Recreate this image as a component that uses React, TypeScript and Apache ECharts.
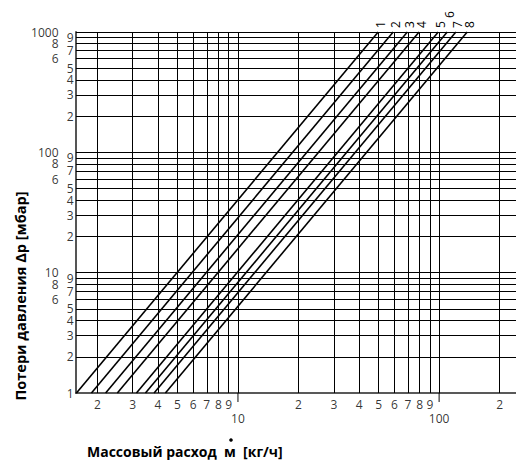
import React, { useEffect, useRef } from "react";
import * as echarts from "echarts";

// Axis ranges (log-log)
const X_MIN = 1.567;
const X_MAX = 241;
const Y_MIN = 1;
const Y_MAX = 1000;

// Curve names and mass flow [kg/h] at 1 mbar and at 1000 mbar
const CURVE_NAMES = ["1", "2", "3", "4", "5", "6", "7", "8"];
const FLOW_AT_1 = [1.575, 1.87, 2.2, 2.515, 3.13, 3.47, 3.83, 4.36];
const FLOW_AT_1000 = [49.8, 59.1, 69.5, 79.5, 99, 109.7, 121.1, 137.9];

// Grid lines
const X_GRID = [2, 3, 4, 5, 6, 7, 8, 9, 10, 20, 30, 40, 50, 60, 70, 80, 90, 100, 200];
const Y_GRID = [
  2, 3, 4, 5, 6, 7, 8, 9, 10, 20, 30, 40, 50, 60, 70, 80, 90, 100,
  200, 300, 400, 500, 600, 700, 800, 900, 1000,
];

// Tick labels
const X_MINOR_LABELS = [2, 3, 4, 5, 6, 7, 8, 9, 20, 30, 40, 50, 60, 70, 80, 90, 200];
const X_DECADE_LABELS = [10, 100];
const Y_NEAR_LABELS = [1, 2, 3, 4, 5, 7, 9, 20, 30, 40, 50, 70, 90, 200, 300, 400, 500, 700, 900];
const Y_NEAR_TEXT = ["1", "2", "3", "4", "5", "7", "9", "2", "3", "4", "5", "7", "9", "2", "3", "4", "5", "7", "9"];
const Y_FAR_LABELS = [6, 8, 10, 60, 80, 100, 600, 800, 1000];
const Y_FAR_TEXT = ["6", "8", "10", "6", "8", "100", "6", "8", "1000"];

const X_TITLE = "Массовый расход  м  [кг/ч]";
const Y_TITLE = "Потери давления Δp [мбар]";

const FONT = "'Open Sans', 'Noto Sans', sans-serif";

function firstDigit(v: number): string {
  const s = String(v);
  return s[0];
}

export default function App() {
  const ref = useRef<HTMLDivElement>(null);

  useEffect(() => {
    if (!ref.current) return;
    const chart = echarts.init(ref.current, undefined, { renderer: "svg" });

    const labelStyle = { fontFamily: FONT, fontSize: 12, lineHeight: 11, color: "#000" };

    const curveSeries = CURVE_NAMES.map((name, i) => ({
      type: "line",
      name,
      silent: true,
      symbol: "none",
      showSymbol: false,
      lineStyle: { color: "#000", width: 1.6 },
      data: [
        [FLOW_AT_1[i], Y_MIN],
        [FLOW_AT_1000[i], Y_MAX],
      ],
      clip: false,
      z: 5,
    }));

    const baseGraphic: any[] = [
      {
        type: "text",
        x: 20,
        y: 296,
        rotation: Math.PI / 2,
        style: {
          text: Y_TITLE,
          fontFamily: FONT,
          fontSize: 14.5,
          fontWeight: "bold",
          fill: "#000",
          align: "center",
          verticalAlign: "middle",
        },
      },
      {
        type: "text",
        x: 87,
        y: 451,
        style: {
          text: X_TITLE,
          fontFamily: FONT,
          fontSize: 14,
          fontWeight: "bold",
          fill: "#000",
          align: "left",
          verticalAlign: "middle",
        },
      },
      {
        type: "circle",
        shape: { cx: 231, cy: 440, r: 1.8 },
        style: { fill: "#000" },
      },
    ];

    const option: any = {
      animation: false,
      backgroundColor: "#fff",
      grid: { left: 76, top: 32, right: 0, bottom: 71, containLabel: false },
      xAxis: {
        type: "log",
        logBase: 10,
        min: X_MIN,
        max: X_MAX,
        axisLine: { show: true, lineStyle: { color: "#222", width: 1.5 } },
        axisTick: { show: false },
        axisLabel: { show: false },
        splitLine: { show: false },
      },
      yAxis: {
        type: "log",
        logBase: 10,
        min: Y_MIN,
        max: Y_MAX,
        axisLine: { show: true, lineStyle: { color: "#555", width: 2 } },
        axisTick: { show: false },
        axisLabel: { show: false },
        splitLine: { show: false },
      },
      series: [
        {
          type: "scatter",
          silent: true,
          symbolSize: 0,
          data: [[X_MIN, Y_MIN]],
          markLine: {
            silent: true,
            symbol: ["none", "none"],
            label: { show: false },
            lineStyle: { color: "#000", width: 1, type: "solid" },
            data: [
              ...X_GRID.map((v) => ({ xAxis: v })),
              ...Y_GRID.map((v) => ({ yAxis: v })),
            ],
          },
          z: 1,
        },
        // decade ticks below x axis
        {
          type: "scatter",
          silent: true,
          clip: false,
          symbol: "rect",
          symbolSize: [1.2, 9],
          symbolOffset: [0, 4.5],
          itemStyle: { color: "#000" },
          data: X_DECADE_LABELS.map((v) => [v, Y_MIN]),
        },
        // x minor labels
        {
          type: "scatter",
          silent: true,
          clip: false,
          symbolSize: 1,
          itemStyle: { color: "transparent" },
          data: X_MINOR_LABELS.map((v) => [v, Y_MIN]),
          label: {
            show: true,
            position: "bottom",
            distance: 5,
            formatter: (p: any) => firstDigit(p.value[0]),
            ...labelStyle,
          },
        },
        // x decade labels
        {
          type: "scatter",
          silent: true,
          clip: false,
          symbolSize: 1,
          itemStyle: { color: "transparent" },
          data: X_DECADE_LABELS.map((v) => [v, Y_MIN]),
          label: {
            show: true,
            position: "bottom",
            distance: 19,
            formatter: (p: any) => String(p.value[0]),
            ...labelStyle,
          },
        },
        // y near labels
        {
          type: "scatter",
          silent: true,
          clip: false,
          symbolSize: 1,
          itemStyle: { color: "transparent" },
          data: Y_NEAR_LABELS.map((v) => [X_MIN, v]),
          label: {
            show: true,
            position: "left",
            distance: 2,
            formatter: (p: any) => Y_NEAR_TEXT[p.dataIndex],
            ...labelStyle,
          },
        },
        // y far labels
        {
          type: "scatter",
          silent: true,
          clip: false,
          symbolSize: 1,
          itemStyle: { color: "transparent" },
          data: Y_FAR_LABELS.map((v) => [X_MIN, v]),
          label: {
            show: true,
            position: "left",
            distance: 17,
            formatter: (p: any) => Y_FAR_TEXT[p.dataIndex],
            ...labelStyle,
          },
        },
        ...curveSeries,
      ],
      graphic: baseGraphic,
    };

    chart.setOption(option);

    // curve number labels, placed through the chart's own scales, rotated 90°
    const curveLabels = CURVE_NAMES.map((name, i) => {
      const pt = chart.convertToPixel({ gridIndex: 0 }, [FLOW_AT_1000[i], Y_MAX]) as number[];
      const lift = name === "6" ? 14 : 4;
      return {
        type: "text",
        x: pt[0] + 2,
        y: pt[1] - lift,
        rotation: Math.PI / 2,
        style: {
          text: name,
          fontFamily: FONT,
          fontSize: 12,
          fill: "#000",
          align: "left",
          verticalAlign: "middle",
        },
      };
    });

    chart.setOption({ graphic: [...baseGraphic, ...curveLabels] }, { replaceMerge: ["graphic"] });

    return () => chart.dispose();
  }, []);

  return (
    <div
      ref={ref}
      style={{ position: "absolute", left: 0, top: 0, width: 516, height: 464 }}
    />
  );
}
